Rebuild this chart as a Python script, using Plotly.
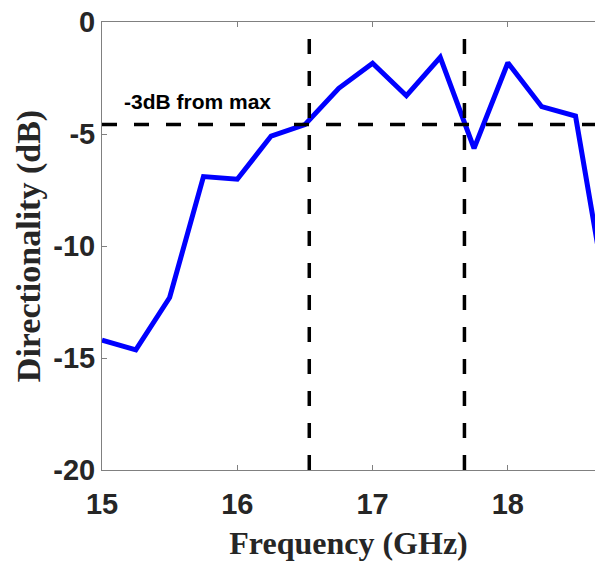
import plotly.graph_objects as go

freq = [15.0, 15.25, 15.5, 15.75, 16.0, 16.25, 16.5, 16.75, 17.0, 17.25, 17.5, 17.75, 18.0, 18.25, 18.5, 18.75]
directionality = [-14.2, -14.64, -12.3, -6.9, -7.02, -5.09, -4.58, -2.96, -1.84, -3.29, -1.58, -5.64, -1.82, -3.78, -4.2, -13.0]

threshold = -4.58
band_edges = [16.532, 17.679]
x_ticks = [15, 16, 17, 18]
y_ticks = [0, -5, -10, -15, -20]

fig = go.Figure()
fig.add_trace(go.Scatter(x=freq, y=directionality, mode="lines",
                         line=dict(color="#0000FF", width=5), showlegend=False,
                         cliponaxis=True))

dash = "15px,17px"
fig.add_shape(type="line", xref="paper", yref="y", x0=0, x1=1, y0=threshold, y1=threshold,
              line=dict(color="black", width=3.5, dash=dash))
for xe in band_edges:
    fig.add_shape(type="line", xref="x", yref="paper", x0=xe, x1=xe, y0=0, y1=1,
                  line=dict(color="black", width=3.5, dash=dash))

fig.add_annotation(x=15.15, y=-3.56, xref="x", yref="y", xanchor="left", yanchor="middle",
                   text="<b>-3dB from max</b>", showarrow=False,
                   font=dict(family="Liberation Sans, Arial", size=21, color="black"))

fig.update_layout(
    width=595, height=567,
    margin=dict(l=102, r=0, t=22, b=97, autoexpand=False),
    plot_bgcolor="white", paper_bgcolor="white",
    xaxis=dict(range=[15, 18.644], tickvals=x_ticks, ticktext=["<b>%d</b>" % t for t in x_ticks],
               showline=True, linecolor="#808080", linewidth=1, mirror="ticks", automargin=False,
               ticks="inside", ticklen=5, tickcolor="#808080", showgrid=False, zeroline=False,
               ticklabelstandoff=8,
               tickfont=dict(family="Liberation Sans, Arial", size=29, color="#262626"),
               title=dict(text="<b>Frequency (GHz)</b>", standoff=12,
                          font=dict(family="Liberation Serif, Times New Roman", size=32, color="#262626"))),
    yaxis=dict(range=[-20, 0], tickvals=y_ticks, ticktext=["<b>%d</b>" % t for t in y_ticks],
               showline=True, linecolor="#808080", linewidth=1, mirror=False, automargin=False,
               ticks="inside", ticklen=5, tickcolor="#808080", showgrid=False, zeroline=False,
               tickfont=dict(family="Liberation Sans, Arial", size=29, color="#262626"),
               title=dict(text="<b>Directionality (dB)</b>", standoff=2,
                          font=dict(family="Liberation Serif, Times New Roman", size=34, color="#262626"))),
)
fig.write_html("out.html", config={"displayModeBar": False},
               post_script="document.body.style.margin='0';document.body.style.overflow='hidden';")
